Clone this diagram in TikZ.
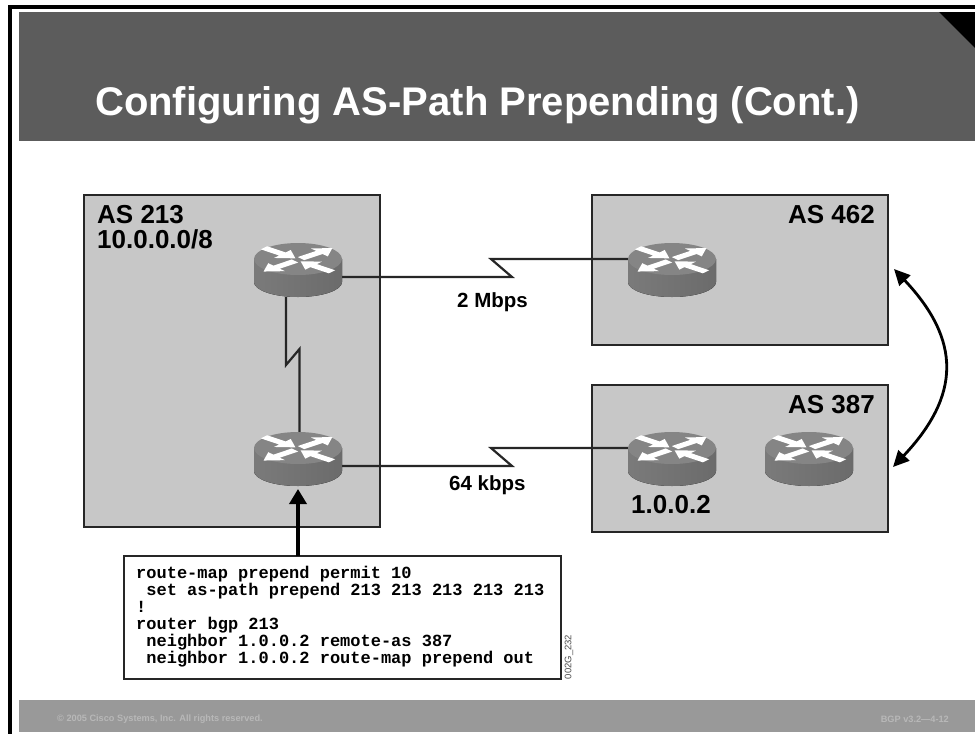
\documentclass[tikz,border=0pt]{standalone}
\usepackage{fontspec}
\setmainfont{Liberation Sans}
\setmonofont{Liberation Mono}
\usetikzlibrary{arrows.meta,calc}
\definecolor{titlegray}{gray}{0.36}
\definecolor{footgray}{gray}{0.6}
\definecolor{footfont}{gray}{0.72}
\definecolor{asgray}{gray}{0.78}
\newcommand{\routerarrow}[3]{%
  \fill[white,shift={(#1,#2)},rotate=#3] (0,-5) -- (24,-5) -- (24,-13) -- (41,0) -- (24,13) -- (24,5) -- (0,5) -- cycle;}
\tikzset{
  asbox/.style={draw=black!85,line width=1.5pt,fill=asgray},
  aslabel/.style={font=\fontsize{26}{28}\bfseries\selectfont,inner sep=0pt},
  rate/.style={font=\fontsize{20.5}{22}\bfseries\selectfont,inner sep=0pt},
  link/.style={draw=black!85,line width=2.2pt,line join=miter},
  thickarrow/.style={draw=black,line width=3.5pt,-{Triangle[length=15pt,width=17pt]}},
  router/.pic={
    \fill[left color=black!52,right color=black!58] (-44,0) -- (-44,23) arc[x radius=44,y radius=15,start angle=180,end angle=0] -- (44,0) -- cycle;
    \fill[black!48] (0,0) ellipse[x radius=44,y radius=16];
    \begin{scope}[yscale=0.40,shift={(0,2)}]
      \routerarrow{-34}{-30}{-40}
      \routerarrow{34}{30}{140}
      \routerarrow{3}{-3}{40}
      \routerarrow{-3}{3}{220}
    \end{scope}
  },
}
\begin{document}
\begin{tikzpicture}[x=1pt,y=-1pt]
\useasboundingbox (0,0) rectangle (975,734);
\fill[white] (0,0) rectangle (975,734);
% slide frame
\fill[black] (8,5) rectangle (975,9);
\fill[black] (8,5) rectangle (12,734);
\fill[titlegray] (19,12) rectangle (975,141);
\fill[black] (939,12) -- (975,12) -- (975,48) -- cycle;
\fill[footgray] (19,700) rectangle (975,732);
\node[anchor=west,inner sep=0pt,text=white,font=\fontsize{40}{44}\bfseries\selectfont] (title) at (95,105) {Configuring AS-Path Prepending (Cont.)};
\node[anchor=west,inner sep=0pt,text=footfont,font=\fontsize{9.2}{11}\bfseries\selectfont] (copy) at (57,719) {© 2005 Cisco Systems, Inc. All rights reserved.};
\node[anchor=east,inner sep=0pt,text=footfont,font=\fontsize{9.2}{11}\bfseries\selectfont] (ver) at (949,719) {BGP v3.2—4-12};
% AS boxes
\path[asbox] (84,195) rectangle (380,527);
\path[asbox] (592,195) rectangle (888,345);
\path[asbox] (592,385) rectangle (888,532);
\node[aslabel,anchor=west] (as213) at (97,215) {AS 213};
\node[aslabel,anchor=west] (net) at (97,239) {10.0.0.0/8};
\node[aslabel,anchor=east] (as462) at (875,215) {AS 462};
\node[aslabel,anchor=east] (as387) at (875,405) {AS 387};
\node[aslabel,anchor=west] (ip) at (631,505) {1.0.0.2};
% router anchors (centre of the top face)
\coordinate (r1) at (298,259);
\coordinate (r2) at (298,448);
\coordinate (r3) at (672,259);
\coordinate (r4) at (672,448);
\coordinate (r5) at (809,448);
% links
\draw[link] ($(r1)+(44,18)$) -- (512,277) -- (491,259) -- ($(r3)+(-44,0)$);
\draw[link] ($(r2)+(44,18)$) -- (512,466) -- (491,448) -- ($(r4)+(-44,0)$);
\draw[link] ($(r1)+(-12,38)$) -- (286,365) -- (299.5,349) -- ($(r2)+(1.5,-10)$);
% routers
\foreach \r in {r1,r2,r3,r4,r5} \path (\r) pic {router};
% rates
\node[rate,anchor=west] (m2) at (457,302) {2 Mbps};
\node[rate,anchor=west] (k64) at (449,485) {64 kbps};
% config box
\node[draw=black!85,line width=1.5pt,fill=white,anchor=north west,minimum width=437pt,minimum height=123pt,inner sep=0pt,outer sep=0pt] (cfg) at (124,556) {};
\node[anchor=north west,inner sep=0pt,align=left,font=\fontsize{17}{17}\ttfamily\bfseries\selectfont] (code) at (136,566) {route-map prepend permit 10\\
\ set as-path prepend 213 213 213 213 213\\
!\\
router bgp 213\\
\ neighbor 1.0.0.2 remote-as 387\\
\ neighbor 1.0.0.2 route-map prepend out};
\node[rotate=90,inner sep=0pt,text=black!70,font=\fontsize{9.5}{10}\selectfont] (tag) at (569,657) {002G\_232};
\draw[thickarrow] (cfg.north -| r2) -- ($(r2)+(0,41)$);
% curved arrow
\coordinate (ca) at (894,269);
\coordinate (cb) at (893,467);
\draw[draw=black,line width=2.8pt,{Triangle[length=16pt,width=15pt]}-{Triangle[length=16pt,width=15pt]}] (ca) .. controls (961,340) and (961,395) .. (cb);
\end{tikzpicture}
\end{document}
